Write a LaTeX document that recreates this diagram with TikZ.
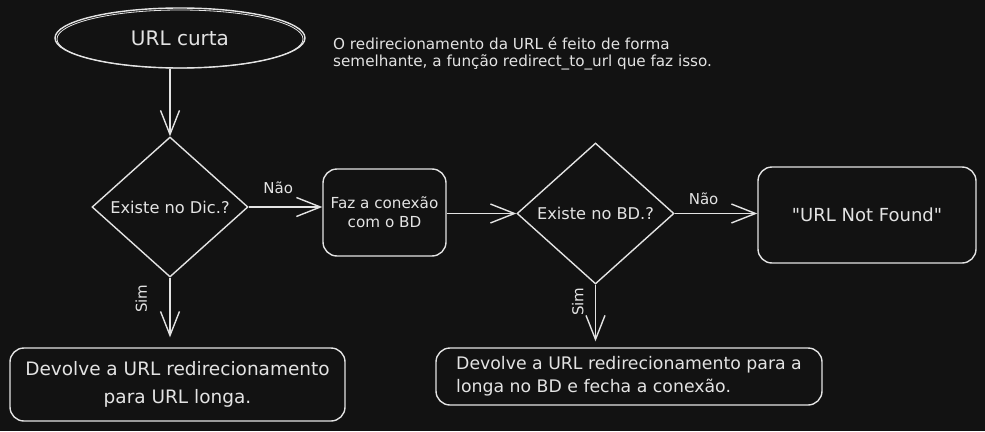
\documentclass[tikz,border=0pt]{standalone}
\usepackage{fontspec}
\setmainfont{DejaVu Sans}[Ligatures=TeXOff]
\usetikzlibrary{shapes.geometric}
\usetikzlibrary{arrows.meta}
\definecolor{fundo}{rgb}{0.07, 0.07, 0.07}
\definecolor{giz}{rgb}{0.89, 0.89, 0.89}

\begin{document}
\begin{tikzpicture}[x=1pt, y=-1pt,
	seta/.style={giz, line width=1.4pt, -{Straight Barb[length=24pt, width=19pt]}},
	caixa/.style={draw=giz, line width=1.4pt, rounded corners=14pt, text=giz, align=center, inner sep=0pt},
	losango/.style={draw=giz, line width=1.4pt, diamond, aspect=1.1, text=giz, inner sep=0pt, font=\fontsize{16.2}{18}\selectfont},
	rotulo/.style={text=giz, font=\fontsize{15}{18}\selectfont}]
	
	\useasboundingbox (0,0) rectangle (985,431);
	\fill[fundo] (0,0) rectangle (985,431);
	
	% inicio
	\node[draw=giz, line width=1.4pt, ellipse, minimum width=250pt, minimum height=60pt, text=giz, font=\fontsize{20}{22}\selectfont] (curta) at (180,38) {URL curta};
	\draw[giz, line width=0.8pt] (180,39) ellipse (123pt and 29pt);
	
	\node[anchor=west, inner sep=0pt, text=giz, align=left, font=\fontsize{15.2}{17}\selectfont] (nota) at (333,54) {O redirecionamento da URL é feito de forma\\semelhante, a função redirect\_to\_url que faz isso.};
	
	% decisoes e caixas
	\node[losango, minimum width=156pt, minimum height=140pt] (dic) at (170,207) {Existe no Dic.?};
	\node[caixa, minimum width=123pt, minimum height=87pt, font=\fontsize{15.2}{19}\selectfont] (conexao) at (384.5,212.5) {Faz a conexão\\com o BD};
	\node[losango, minimum width=157pt, minimum height=141pt] (bd) at (595.5,213.5) {Existe no BD.?};
	\node[caixa, minimum width=218pt, minimum height=96pt, font=\fontsize{18}{20}\selectfont] (notfound) at (867,215) {"URL Not Found"};
	
	\node[caixa, minimum width=335pt, minimum height=73pt, font=\fontsize{18.5}{28}\selectfont] (longa) at (177.5,384.5) {Devolve a URL redirecionamento\\para URL longa.};
	\node[caixa, minimum width=386pt, minimum height=57pt, align=left, font=\fontsize{17.3}{23}\selectfont] (longabd) at (629,376.5) {Devolve a URL redirecionamento para a\\longa no BD e fecha a conexão.};
	
	% setas
	\draw[seta] (curta.south -| dic.north) -- (dic.north);
	\draw[seta] (dic.east) -- (dic.east -| conexao.west) node[rotulo, pos=0.4, above=9pt] (nao1) {Não};
	\draw[seta] (conexao.east |- bd.west) -- (bd.west);
	\draw[seta] (bd.east) -- (bd.east -| notfound.west) node[rotulo, pos=0.35, above=5pt] (nao2) {Não};
	
	\draw[seta, shorten >=10pt] (dic.south) -- (dic.south |- longa.north) node[rotulo, pos=0.3, xshift=-19pt, rotate=90, anchor=south] (sim1) {Sim};
	\draw[seta, shorten >=6pt] (bd.south) -- (bd.south |- longabd.north) node[rotulo, pos=0.27, xshift=-8pt, rotate=90, anchor=south] (sim2) {Sim};
	
\end{tikzpicture}
\end{document}
